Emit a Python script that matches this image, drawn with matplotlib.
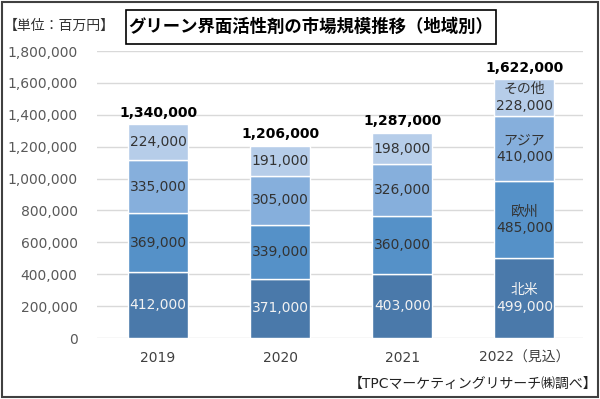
import matplotlib
matplotlib.use("Agg")
import matplotlib.pyplot as plt
from matplotlib.patches import Rectangle
from matplotlib.ticker import FuncFormatter

plt.rcParams['font.family'] = ['DejaVu Sans', 'Noto Sans CJK JP']

# data (million yen)
years = ['2019', '2020', '2021', '2022（見込）']
na = [412000, 371000, 403000, 499000]
eu = [369000, 339000, 360000, 485000]
asia = [335000, 305000, 326000, 410000]
other = [224000, 191000, 198000, 228000]
totals = [1340000, 1206000, 1287000, 1622000]
region_names = ['北米', '欧州', 'アジア', 'その他']

colors = ['#4a79aa', '#5591c8', '#86afdc', '#b6cde9']
label_colors = ['#f2f2f2', '#333333', '#333333', '#333333']

fig = plt.figure(figsize=(6, 3.99), dpi=100)
ax = fig.add_axes([97/600, 1 - 338/399, 486/600, 287/399])

series = [na, eu, asia, other]
x = list(range(len(years)))
bottom = [0] * len(years)
for k, vals in enumerate(series):
    ax.bar(x, vals, width=0.49, bottom=bottom, color=colors[k],
           edgecolor='white', linewidth=1, zorder=3)
    for i, v in enumerate(vals):
        txt = f'{v:,}'
        if i == len(years) - 1:
            txt = region_names[k] + '\n' + txt
        ax.text(x[i], bottom[i] + v / 2, txt, ha='center', va='center',
                fontsize=10, color=label_colors[k], zorder=4, linespacing=1.25)
    bottom = [b + v for b, v in zip(bottom, vals)]

# totals above the bars
for i, t in enumerate(totals):
    ax.text(x[i], t + 30000, f'{t:,}', ha='center', va='bottom',
            fontsize=10, fontweight='bold', color='black', zorder=4)

ax.set_xlim(-0.5, 3.48)
ax.set_ylim(0, 1800000)
ax.set_yticks(range(0, 1800001, 200000))
ax.yaxis.set_major_formatter(FuncFormatter(lambda v, p: f'{int(v):,}'))
ax.set_xticks(x)
ax.set_xticklabels(years)
ax.tick_params(axis='y', length=0, pad=14, labelsize=10, labelcolor='#595959')
ax.tick_params(axis='x', length=0, pad=9, labelsize=10, labelcolor='#404040')
ax.grid(axis='y', color='#d9d9d9', linewidth=1, zorder=0)
for s in ax.spines.values():
    s.set_visible(False)

# title box
fig.patches.append(Rectangle((126/600, 1 - 44/399), 370/600, 34/399,
                             transform=fig.transFigure, fill=False,
                             edgecolor='black', linewidth=1.2))
fig.text(311/600, 1 - 27/399, 'グリーン界面活性剤の市場規模推移（地域別）',
         ha='center', va='center', fontsize=12.5, fontweight='bold')
fig.text(4/600, 1 - 26/399, '【単位：百万円】', ha='left', va='center',
         fontsize=10, color='#333333')
fig.text(597/600, 1 - 384/399, '【TPCマーケティングリサーチ㈱調べ】',
         ha='right', va='center', fontsize=10, color='#222222')

# outer border
fig.patches.append(Rectangle((0.004, 0.004), 0.992, 0.992,
                             transform=fig.transFigure, fill=False,
                             edgecolor='#404040', linewidth=1.5))

fig.savefig('out.png', dpi=100, facecolor='white')
